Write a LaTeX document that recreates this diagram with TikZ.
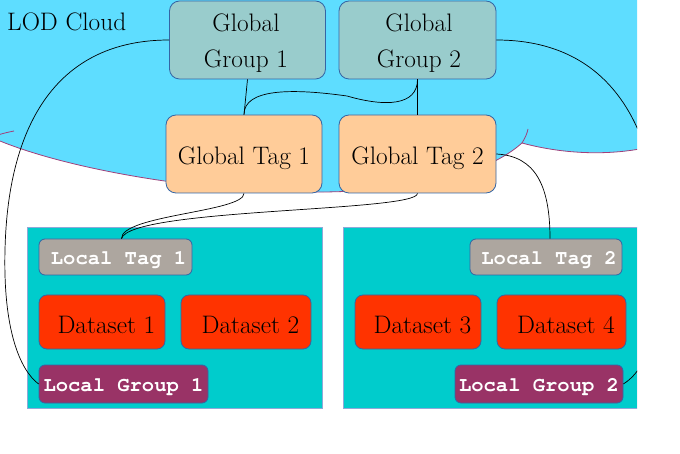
\documentclass[tikz,border=0pt]{standalone}
\usepackage{fontspec}
\setmainfont{lmroman17-regular.otf}
\newfontfamily\cursorbold{texgyrecursor-bold.otf}
\definecolor{cloudc}{HTML}{5EDDFF}
\definecolor{cloudb}{HTML}{A0407A}
\definecolor{ggc}{HTML}{99CCCC}
\definecolor{gtc}{HTML}{FFCC99}
\definecolor{contc}{HTML}{00CCCC}
\definecolor{contb}{HTML}{8FA8D8}
\definecolor{ltc}{HTML}{ADA69F}
\definecolor{dsc}{HTML}{FF3300}
\definecolor{lgc}{HTML}{993366}
\definecolor{bordc}{HTML}{3465A4}
\newcommand\bigrm{\fontsize{25.3}{36}\selectfont}
\newcommand\bigtt{\cursorbold\fontsize{20.5}{26}\selectfont}
\begin{document}
\begin{tikzpicture}[x=1pt,y=-1pt,
  box/.style={rectangle, draw=bordc, line width=0.8pt, inner sep=0pt, font=\bigrm},
  ggbox/.style={box, fill=ggc, minimum width=156pt, minimum height=78pt, rounded corners=10pt},
  ggtxt/.style={inner sep=0pt, align=center, font=\bigrm},
  gtbox/.style={box, fill=gtc, minimum width=156pt, minimum height=78pt, rounded corners=10pt, text height=21pt, text depth=0pt},
  ltbox/.style={box, fill=ltc, minimum width=153pt, minimum height=36pt, rounded corners=6pt, font=\bigtt, text=white, text height=15.4pt, text depth=0pt},
  dsbox/.style={box, fill=dsc, minimum height=54pt, rounded corners=8pt, text height=24pt, text depth=0pt},
  lgbox/.style={box, fill=lgc, minimum width=168pt, minimum height=38pt, rounded corners=6pt, font=\bigtt, text=white, text height=15pt, text depth=0pt},
  contbox/.style={rectangle, fill=contc, draw=contb, line width=0.6pt, inner sep=0pt, minimum width=295pt, minimum height=181pt},
  conn/.style={draw=black, line width=0.7pt},
  cloudline/.style={draw=cloudb, line width=0.8pt}]
\useasboundingbox (0,0) rectangle (680,454);
\begin{scope}
\clip (0,0) rectangle (637,454);
% cloud
\fill[cloudc] (-5,-5) -- (-5,140) -- (0,141) .. controls (120,190) and (430,225) .. (522,143)
  .. controls (555,152) and (600,157) .. (645,148) -- (645,-5) -- cycle;
\draw[cloudline] (-5,139) -- (0,141) .. controls (120,190) and (430,225) .. (522,143)
  .. controls (555,152) and (600,157) .. (645,148);
\draw[cloudline] (522,143) .. controls (525,138) and (527,134) .. (528,129);
\draw[cloudline] (-2,135) .. controls (4,133) and (9,132) .. (14,131);
\node[anchor=base west, inner sep=0pt, font=\bigrm] (lod) at (7,31) {LOD Cloud};
% containers
\node[contbox] (lc1) at (174.5,317.5) {};
\node[contbox, minimum width=294pt] (lc2) at (490,317.5) {};
% global nodes
\node[ggbox] (gg1) at (247.5,40) {};
\node[ggtxt] (gg1t) at (246,42.7) {Global\\Group 1};
\node[ggbox, minimum width=157pt] (gg2) at (417.5,40) {};
\node[ggtxt] (gg2t) at (419,42.7) {Global\\Group 2};
\node[gtbox] (gt1) at (244,154) {Global Tag 1};
\node[gtbox, minimum width=157pt] (gt2) at (417.5,154) {Global Tag 2};
% local nodes
\node[ltbox] (lt1) at (115.5,257) {\hspace*{0.3em}Local Tag 1};
\node[ltbox, minimum width=152pt] (lt2) at (546,257) {\hspace*{0.3em}Local Tag 2};
\node[dsbox, minimum width=126pt] (d1) at (102,322) {\hspace*{0.35em}Dataset 1};
\node[dsbox, minimum width=130pt] (d2) at (246,322) {\hspace*{0.35em}Dataset 2};
\node[dsbox, minimum width=126pt] (d3) at (418,322) {\hspace*{0.35em}Dataset 3};
\node[dsbox, minimum width=129pt] (d4) at (561.5,322) {\hspace*{0.35em}Dataset 4};
\node[lgbox, minimum width=169pt] (lg1) at (123.5,384) {Local Group 1};
\node[lgbox] (lg2) at (539,384) {Local Group 2};
% connectors
\draw[conn] (gg1.west) .. controls (60,40) and (8,120) .. (5,250)
  .. controls (3,330) and (20,370) .. (lg1.west);
\draw[conn] (gg2.east) .. controls (606,40) and (658,120) .. (661,250)
  .. controls (663,330) and (646,370) .. (lg2.east);
\draw[conn] (gg1.south) -- (gt1.north);
\draw[conn] (gg2.south) -- (gt2.north);
\draw[conn] (gt1.north) .. controls (244,89) and (290,88) .. (347,96)
  .. controls (385,107) and (417.5,106) .. (gg2.south);
\draw[conn] (gt1.south) .. controls (244,212) and (121,215) .. ([xshift=6pt]lt1.north);
\draw[conn] (gt2.south) .. controls (417.5,212) and (130,208) .. ([xshift=6pt]lt1.north);
\draw[conn] (gt2.east) .. controls (535,156) and (550,185) .. ([xshift=4pt]lt2.north);
\end{scope}
\end{tikzpicture}
\end{document}
